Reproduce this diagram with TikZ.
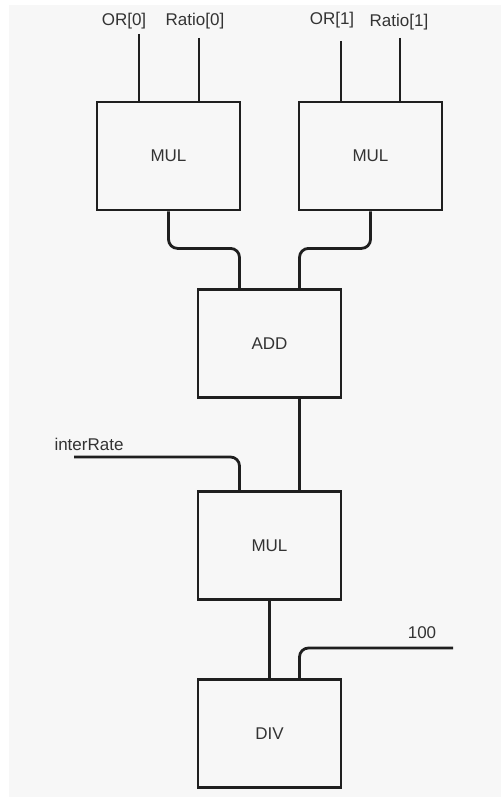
\documentclass[tikz,border=0pt]{standalone}
\usepackage{fontspec}
\setmainfont{Liberation Sans}
\begin{document}
\begin{tikzpicture}[x=1pt,y=-1pt,
  wire/.style={draw=black!88, line width=2.8pt},
  opbox/.style={draw=black!88, line width=2.8pt, minimum width=143pt, minimum height=108pt, inner sep=0pt, text=black!80, font=\fontsize{17}{20}\selectfont},
  lbl/.style={text=black!80, font=\fontsize{17}{20}\selectfont, inner sep=0pt}]
\useasboundingbox (0,0) rectangle (501,797);
\fill[black!3] (9,5) rectangle (501,797);
% boxes
\node[opbox] (mul0) at (168.5,156) {MUL};
\node[opbox] (mul1) at (370.5,156) {MUL};
\node[opbox] (add) at (269.5,343.5) {ADD};
\node[opbox] (mul2) at (269.5,545.5) {MUL};
\node[opbox] (div) at (269.5,733.5) {DIV};
% labels
\node[lbl] (lor0) at (124,21) {OR[0]};
\node[lbl] (lra0) at (195,21) {Ratio[0]};
\node[lbl] (lor1) at (332,20) {OR[1]};
\node[lbl] (lra1) at (399,22) {Ratio[1]};
\node[lbl] (lir) at (89,444) {interRate};
\node[lbl] (lh) at (422,633) {100};
% free wire ends
\coordinate (or0) at (139,34);
\coordinate (ra0) at (199,38);
\coordinate (or1) at (341,41);
\coordinate (ra1) at (400,38);
\coordinate (ir) at (74,457);
\coordinate (hh) at (453,648);
% wires
\draw[wire] (or0) -- (or0 |- mul0.north);
\draw[wire] (ra0) -- (ra0 |- mul0.north);
\draw[wire] (or1) -- (or1 |- mul1.north);
\draw[wire] (ra1) -- (ra1 |- mul1.north);
\draw[wire, rounded corners=9pt] (mul0.south) -- ++(0,37) -| ([xshift=-30pt]add.north);
\draw[wire, rounded corners=9pt] (mul1.south) -- ++(0,37) -| ([xshift=30pt]add.north);
\draw[wire] ([xshift=30pt]add.south) -- ([xshift=30pt]mul2.north);
\draw[wire, rounded corners=9pt] (ir) -| ([xshift=-30pt]mul2.north);
\draw[wire] (mul2.south) -- (div.north);
\draw[wire, rounded corners=9pt] (hh) -| ([xshift=30pt]div.north);
\end{tikzpicture}
\end{document}
